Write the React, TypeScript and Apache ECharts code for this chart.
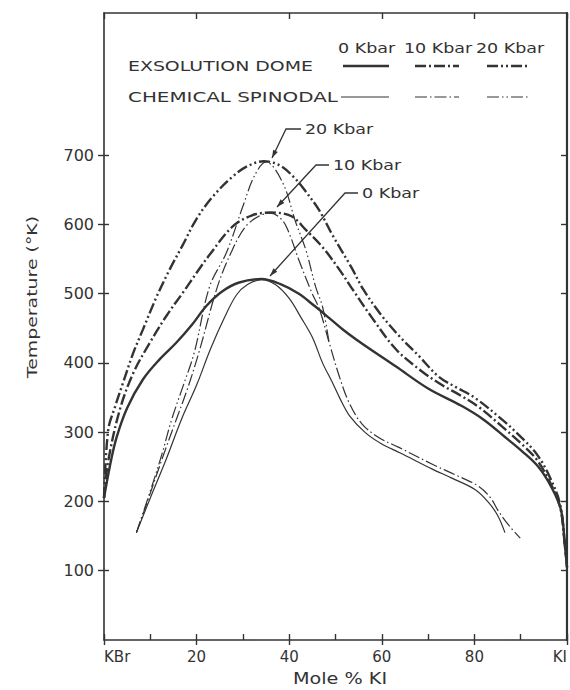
import React, { useEffect, useRef } from "react";
import * as echarts from "echarts";

// ---- data (Mole % KI, Temperature °K) ----
const xMin = 0;
const xMax = 100;
const yMin = 0;
const yMax = 905;
const yTickValues = [100, 200, 300, 400, 500, 600, 700];
const xEndLabels: Record<number, string> = { 0: "KBr", 100: "KI" };

const dome0: number[][] = [
  [0, 205], [1.3, 252], [2.7, 292], [5, 335], [8.4, 376], [12, 405], [15.6, 429], [19, 455],
  [22.1, 482], [25.5, 503], [29.2, 516], [34, 521], [38, 514], [42, 500], [45.5, 482],
  [48.6, 465], [52, 446], [55.7, 428], [63, 395], [70, 363], [77.2, 338], [82, 318],
  [86.6, 293], [90.2, 273], [93.8, 250], [96.6, 221], [98.7, 188], [99.5, 140], [100, 105],
];
const dome10: number[][] = [
  [0, 205], [0.9, 258], [3.4, 332], [6.3, 385], [9.9, 429], [13.5, 468], [17, 501], [20, 530],
  [22.8, 556], [27.8, 597], [32, 613], [36, 617], [40.4, 612], [43.6, 592], [47.2, 567],
  [50.8, 535], [53.5, 508], [57.9, 465], [63, 420], [68.6, 388], [73, 368], [77, 353],
  [81, 336], [86, 308], [90.2, 283], [93.5, 260], [96.3, 228], [98.5, 192], [99.5, 140], [100, 105],
];
const dome20: number[][] = [
  [0, 205], [0.9, 303], [2.4, 337], [4.1, 371], [6.3, 414], [8.4, 448], [11.4, 496], [14.2, 535],
  [17, 570], [20, 608], [23.5, 640], [27.8, 669], [31, 684], [34.5, 691], [38, 685], [41, 668],
  [43.5, 648], [46.5, 620], [49.3, 585], [53.5, 537], [56, 506], [60, 468], [64, 437], [68, 410],
  [72.3, 380], [76, 365], [80, 350], [86, 318], [90.2, 292], [93.5, 268], [96.3, 235],
  [98.5, 196], [99.5, 140], [100, 105],
];
const spin0: number[][] = [
  [7, 155], [10, 205], [13.5, 262], [16.7, 318], [20, 368], [23, 420], [26, 465], [28.6, 498],
  [31, 513], [34, 520], [37, 513], [40, 493], [42.5, 466], [45, 437], [47.2, 400], [49.3, 372],
  [51, 348], [53, 324], [56.5, 299], [60, 283], [64, 270], [70.8, 247], [75, 234], [80.2, 217],
  [83, 199], [85, 180], [86.6, 155],
];
const spin10: number[][] = [
  [7, 155], [10, 212], [13, 270], [15.6, 318], [18, 362], [20.5, 415], [24.5, 510], [27.5, 560],
  [30.5, 596], [33.5, 612], [36, 616], [38.5, 606], [40, 587], [42, 550], [44.9, 501],
  [46.5, 478], [48.6, 430], [50.8, 381], [52.9, 343], [55.7, 312], [59.4, 292], [63.7, 278],
  [70.8, 254], [76, 238], [80.9, 222], [83.5, 205], [85.2, 186], [87.5, 165], [89.9, 147],
];
const spin20: number[][] = [
  [7, 155], [10, 215], [12.5, 268], [14.6, 318], [17, 365], [19.5, 415], [22.8, 510],
  [26.5, 560], [30, 626], [32.5, 670], [35, 690], [38.6, 660], [41.4, 603], [43.6, 563],
  [45.7, 510], [47.2, 481], [48.6, 430],
];

const pressureLabels = ["0 Kbar", "10 Kbar", "20 Kbar"];
const rowLabels = ["EXSOLUTION DOME", "CHEMICAL SPINODAL"];

const INK = "#333333";
const FONT = "DejaVu Sans";
const DASH_DOT = [11, 3, 2, 3];
const DASH_DOT_DOT = [11, 3, 2, 3, 2, 3];

function arrowHead(fx: number, fy: number, tx: number, ty: number) {
  const dx = tx - fx, dy = ty - fy;
  const L = Math.hypot(dx, dy);
  const ux = dx / L, uy = dy / L;
  const nx = -uy, ny = ux;
  const bx = tx - 8 * ux, by = ty - 8 * uy;
  return {
    type: "polygon",
    shape: { points: [[tx, ty], [bx + 2.6 * nx, by + 2.6 * ny], [bx - 2.6 * nx, by - 2.6 * ny]] },
    style: { fill: INK },
    silent: true,
  };
}

function leader(label: string, tx: number, ty: number, hx: number, tipX: number, tipY: number) {
  return [
    {
      type: "text", x: tx, y: ty, scaleX: 1.25,
      style: { text: label, fontSize: 14, fontFamily: FONT, fill: INK, align: "left", verticalAlign: "middle" },
    },
    {
      type: "polyline",
      shape: { points: [[tx - 4, ty], [hx, ty], [tipX, tipY]] },
      style: { stroke: INK, lineWidth: 1.3, fill: null },
      silent: true,
    },
    arrowHead(hx, ty, tipX, tipY),
  ];
}

function legendLine(x1: number, x2: number, y: number, w: number, dash: number[] | null) {
  return {
    type: "line",
    shape: { x1, y1: y, x2, y2: y },
    style: { stroke: INK, lineWidth: w, lineDash: dash || undefined },
    silent: true,
  };
}

function mkSeries(name: string, data: number[][], width: number, dash: number[] | "solid") {
  return {
    type: "line",
    name,
    data,
    xAxisIndex: 0,
    yAxisIndex: 0,
    smooth: 0.35,
    symbol: "none",
    lineStyle: { color: INK, width, type: dash, cap: "butt" },
    z: 3,
  };
}

export default function App() {
  const ref = useRef<HTMLDivElement>(null);
  useEffect(() => {
    const chart = echarts.init(ref.current!, null, { renderer: "svg" });
    const tickLine = { color: INK, width: 1.4 };
    const axisLineStyle = { color: INK, width: 1.6 };
    const yLabelFmt = (v: number) => (v >= 100 && v <= 700 ? String(v) : "");
    const option: any = {
      animation: false,
      backgroundColor: "#ffffff",
      grid: { left: 104, right: 1, top: 13, bottom: 50, containLabel: false },
      xAxis: [
        {
          type: "value", min: xMin, max: xMax, interval: 10, position: "bottom",
          axisLine: { show: true, onZero: false, lineStyle: axisLineStyle },
          axisTick: { show: true, inside: true, length: 6, lineStyle: tickLine },
          axisLabel: {
            show: true, color: INK, fontSize: 15, fontFamily: FONT, margin: 9,
            alignMinLabel: "left", alignMaxLabel: "right",
            formatter: (v: number) => (xEndLabels[v] !== undefined ? xEndLabels[v] : v % 20 === 0 ? String(v) : ""),
          },
          splitLine: { show: false },
        },
        {
          type: "value", min: xMin, max: xMax, interval: 20, position: "bottom",
          axisLine: { show: false, onZero: false },
          axisTick: { show: true, inside: false, length: 5, lineStyle: tickLine },
          axisLabel: { show: false },
          splitLine: { show: false },
        },
        {
          type: "value", min: xMin, max: xMax, interval: 20, position: "top",
          axisLine: { show: true, onZero: false, lineStyle: axisLineStyle },
          axisTick: { show: true, inside: true, length: 6, lineStyle: tickLine },
          axisLabel: { show: false },
          splitLine: { show: false },
        },
      ],
      yAxis: [
        {
          type: "value", min: yMin, max: yMax, interval: 100, position: "left",
          axisLine: { show: true, onZero: false, lineStyle: axisLineStyle },
          axisTick: { show: true, inside: false, length: 6, lineStyle: tickLine, customValues: yTickValues },
          axisLabel: {
            show: true, color: INK, fontSize: 16, fontFamily: FONT, margin: 10,
            customValues: yTickValues, formatter: yLabelFmt,
          },
          splitLine: { show: false },
        },
        {
          type: "value", min: yMin, max: yMax, interval: 100, position: "left",
          axisLine: { show: false, onZero: false },
          axisTick: { show: true, inside: true, length: 5, lineStyle: tickLine, customValues: yTickValues },
          axisLabel: { show: false },
          splitLine: { show: false },
        },
        {
          type: "value", min: yMin, max: yMax, interval: 100, position: "right",
          axisLine: { show: true, onZero: false, lineStyle: { color: INK, width: 2.2 } },
          axisTick: { show: true, inside: true, length: 6, lineStyle: tickLine, customValues: yTickValues },
          axisLabel: { show: false },
          splitLine: { show: false },
        },
      ],
      series: [
        mkSeries("Exsolution dome 0 Kbar", dome0, 2.4, "solid"),
        mkSeries("Exsolution dome 10 Kbar", dome10, 2.4, DASH_DOT),
        mkSeries("Exsolution dome 20 Kbar", dome20, 2.4, DASH_DOT_DOT),
        mkSeries("Chemical spinodal 0 Kbar", spin0, 1.2, "solid"),
        mkSeries("Chemical spinodal 10 Kbar", spin10, 1.2, [12, 3, 1.5, 3]),
        mkSeries("Chemical spinodal 20 Kbar", spin20, 1.2, [12, 3, 1.5, 3, 1.5, 3]),
      ],
      graphic: [
        // legend headers
        { type: "text", x: 338, y: 48, scaleX: 1.25, style: { text: pressureLabels[0], fontSize: 14, fontFamily: FONT, fill: INK, verticalAlign: "middle" } },
        { type: "text", x: 404, y: 48, scaleX: 1.25, style: { text: pressureLabels[1], fontSize: 14, fontFamily: FONT, fill: INK, verticalAlign: "middle" } },
        { type: "text", x: 476, y: 48, scaleX: 1.25, style: { text: pressureLabels[2], fontSize: 14, fontFamily: FONT, fill: INK, verticalAlign: "middle" } },
        { type: "text", x: 128, y: 66, scaleX: 1.35, style: { text: rowLabels[0], fontSize: 14, fontFamily: FONT, fill: INK, verticalAlign: "middle" } },
        { type: "text", x: 128, y: 97, scaleX: 1.42, style: { text: rowLabels[1], fontSize: 14, fontFamily: FONT, fill: INK, verticalAlign: "middle" } },
        legendLine(343, 389, 66, 2.4, null),
        legendLine(415, 459, 66, 2.4, DASH_DOT),
        legendLine(487, 529, 66, 2.4, DASH_DOT_DOT),
        legendLine(341, 389, 97, 1.2, null),
        legendLine(415, 459, 97, 1.2, [12, 3, 1.5, 3]),
        legendLine(487, 529, 97, 1.2, [12, 3, 1.5, 3, 1.5, 3]),
        // annotations
        ...leader("20 Kbar", 305, 129, 286, 272, 158),
        ...leader("10 Kbar", 333, 165, 316, 277, 207),
        ...leader("0 Kbar", 362, 193, 345, 270, 276),
        // axis names
        {
          type: "text", x: 32, y: 297, rotation: Math.PI / 2, scaleX: 1.35,
          style: { text: "Temperature (°K)", fontSize: 14, fontFamily: FONT, fill: INK, align: "center", verticalAlign: "middle" },
        },
        {
          type: "text", x: 340, y: 679, scaleX: 1.28,
          style: { text: "Mole % KI", fontSize: 15, fontFamily: FONT, fill: INK, align: "center", verticalAlign: "middle" },
        },
      ],
    };
    chart.setOption(option);
    return () => chart.dispose();
  }, []);
  return (
    <div
      ref={ref}
      style={{ position: "fixed", left: 0, top: 0, width: 570, height: 690, background: "#ffffff" }}
    />
  );
}
